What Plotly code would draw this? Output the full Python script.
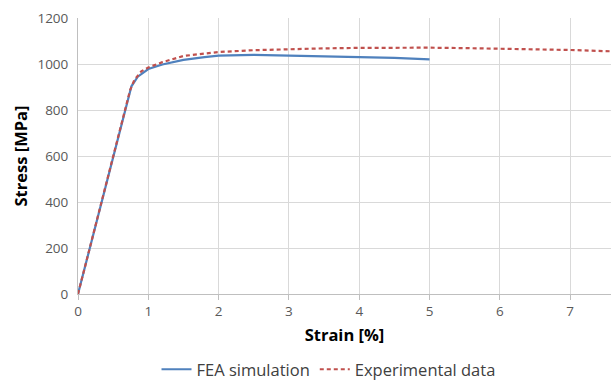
import plotly.graph_objects as go

fea_strain = [0, 0.76, 0.85, 1.0, 1.2, 1.5, 1.8, 2.0, 2.5, 3.0, 3.5, 4.0, 4.5, 5.0]
fea_stress = [0, 903, 945, 978, 998, 1018, 1030, 1036, 1040, 1037, 1034, 1031, 1027, 1020]

exp_strain = [0, 0.74, 0.8, 0.9, 1.0, 1.2, 1.5, 1.8, 2.0, 2.5, 3.0, 3.5, 4.0, 4.5, 5.0, 5.5, 6.0, 6.5, 7.0, 7.6]
exp_stress = [0, 885, 930, 968, 985, 1008, 1035, 1047, 1052, 1060, 1065, 1068, 1070, 1071, 1071, 1069, 1067, 1064, 1061, 1055]

x_ticks = [0, 1, 2, 3, 4, 5, 6, 7]
y_ticks = [0, 200, 400, 600, 800, 1000, 1200]

font = "Open Sans, Liberation Sans, sans-serif"

fig = go.Figure()
fig.add_trace(go.Scatter(x=fea_strain, y=fea_stress, mode="lines", name="FEA simulation",
                         line=dict(color="#4f81bd", width=2.2)))
fig.add_trace(go.Scatter(x=exp_strain, y=exp_stress, mode="lines", name="Experimental data",
                         line=dict(color="#c0504d", width=2.2, dash="4px,3px")))

fig.update_layout(
    width=611, height=387,
    margin=dict(l=78, r=0, t=18, b=90),
    paper_bgcolor="white", plot_bgcolor="white",
    font=dict(family=font, size=13, color="#595959"),
    showlegend=True,
    legend=dict(orientation="h", x=0.47, xanchor="center", y=-0.275, yanchor="middle",
                font=dict(size=16.5, color="#404040"), itemwidth=30, traceorder="normal"),
    xaxis=dict(range=[0, 7.58], tickvals=x_ticks, ticktext=[str(v) for v in x_ticks],
               showgrid=True, gridcolor="#d9d9d9", gridwidth=1,
               showline=True, linecolor="#bfbfbf", linewidth=1,
               ticks="outside", ticklen=5, tickcolor="#bfbfbf",
               zeroline=False, tickfont=dict(size=13.5),
               title=dict(text="<b>Strain [%]</b>", font=dict(size=16.5, color="#000000"), standoff=10)),
    yaxis=dict(range=[0, 1200], tickvals=y_ticks, ticktext=[str(v) for v in y_ticks],
               showgrid=True, gridcolor="#d9d9d9", gridwidth=1,
               showline=True, linecolor="#bfbfbf", linewidth=1,
               ticks="", zeroline=False, ticklabelstandoff=6, tickfont=dict(size=13.5),
               title=dict(text="<b>Stress [MPa]</b>", font=dict(size=16.5, color="#000000"), standoff=5)),
)

fig.write_html("out.html")
